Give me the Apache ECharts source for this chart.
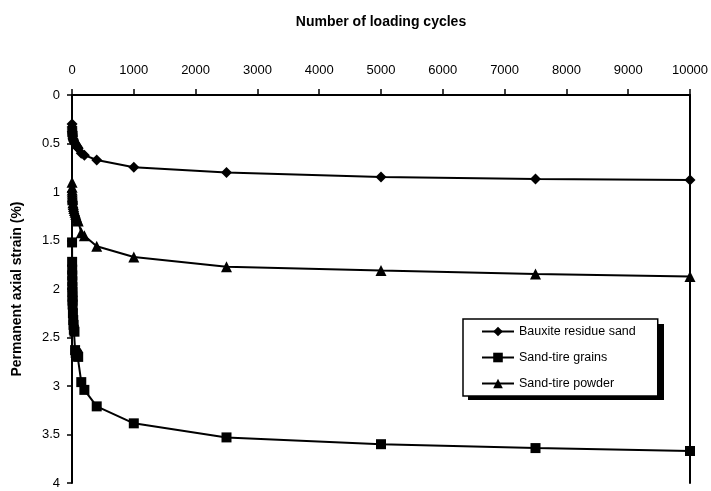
<!DOCTYPE html>
<html>
<head>
<meta charset="utf-8">
<script src="https://cdn.jsdelivr.net/npm/echarts@6/dist/echarts.min.js"></script>
<style>
  html, body { margin: 0; padding: 0; background: #fff; }
  #chart { width: 711px; height: 491px; }
</style>
</head>
<body>
<div id="chart"></div>
<script>
// loading cycles and permanent strain (%)
var cycles = [1, 2, 3, 4, 5, 6, 7, 8, 9, 10, 15, 20, 25, 30, 40, 50, 60, 70, 80, 90, 100,
              150, 200, 400, 1000, 2500, 5000, 7500, 10000];
var bauxite = [0.30, 0.33, 0.35, 0.37, 0.38, 0.39, 0.40, 0.41, 0.42, 0.43, 0.45, 0.46, 0.47, 0.48, 0.49,
               0.50, 0.51, 0.52, 0.53, 0.54, 0.55, 0.60, 0.62, 0.67, 0.745, 0.80, 0.845, 0.865, 0.876];
var grains = [1.52, 1.72, 1.80, 1.86, 1.92, 1.98, 2.03, 2.08, 2.12, 2.16, 2.25, 2.32, 2.37, 2.42, 2.44,
              2.63, 2.66, 2.67, 2.68, 2.69, 2.70, 2.96, 3.04, 3.21, 3.385, 3.53, 3.60, 3.64, 3.67];
var powder = [0.90, 0.95, 0.98, 1.00, 1.02, 1.04, 1.05, 1.06, 1.07, 1.08, 1.11, 1.13, 1.15, 1.17, 1.19,
              1.21, 1.23, 1.25, 1.27, 1.29, 1.30, 1.42, 1.45, 1.56, 1.67, 1.77, 1.81, 1.845, 1.87];
var seriesNames = ['Bauxite residue sand', 'Sand-tire grains', 'Sand-tire powder'];

function pairs(vals) {
  var out = [];
  for (var i = 0; i < cycles.length; i++) out.push([cycles[i], vals[i]]);
  return out;
}

var font = 'Liberation Sans, Arial, sans-serif';

function mkSeries(name, vals, sym, size) {
  return {
    name: name,
    type: 'line',
    data: pairs(vals),
    symbol: sym,
    symbolSize: size,
    showAllSymbol: true,
    lineStyle: { color: '#000', width: 2 },
    itemStyle: { color: '#000' },
    animation: false
  };
}

var chart = echarts.init(document.getElementById('chart'));
chart.setOption({
  backgroundColor: '#fff',
  textStyle: { fontFamily: font },
  grid: { left: 72, right: 21, top: 95, bottom: 8, outerBoundsMode: 'none' },
  // drop shadow of the legend box
  graphic: [{
    type: 'rect',
    z: 1,
    shape: { x: 468, y: 324, width: 196, height: 76 },
    style: { fill: '#000' }
  }],
  legend: {
    orient: 'vertical',
    left: 463,
    top: 319,
    z: 10,
    padding: [6, 22, 6, 18],
    itemWidth: 32,
    itemHeight: 12,
    itemGap: 13,
    backgroundColor: '#fff',
    borderColor: '#000',
    borderWidth: 1.5,
    borderRadius: 0,
    textStyle: { fontSize: 12.5, color: '#000', fontFamily: font },
    data: seriesNames
  },
  xAxis: {
    type: 'value',
    position: 'top',
    min: 0,
    max: 10000,
    interval: 1000,
    name: 'Number of loading cycles',
    nameLocation: 'middle',
    nameGap: 66,
    nameTextStyle: { fontSize: 14, fontWeight: 'bold', color: '#000', fontFamily: font },
    axisLine: { lineStyle: { color: '#000', width: 2 } },
    axisTick: { length: 6, lineStyle: { color: '#000', width: 1.5 } },
    axisLabel: {
      color: '#000', fontSize: 13, margin: 18, fontFamily: font,
      formatter: function (v) { return String(v); }
    },
    splitLine: { show: false }
  },
  yAxis: [{
    type: 'value',
    inverse: true,
    min: 0,
    max: 4,
    interval: 0.5,
    name: 'Permanent axial strain (%)',
    nameLocation: 'middle',
    nameGap: 48,
    nameTextStyle: { fontSize: 14, fontWeight: 'bold', color: '#000', fontFamily: font },
    axisLine: { show: true, lineStyle: { color: '#000', width: 2 } },
    axisTick: { show: true, length: 5, lineStyle: { color: '#000', width: 1.5 } },
    axisLabel: { color: '#000', fontSize: 13, margin: 12, fontFamily: font },
    splitLine: { show: false }
  }, {
    type: 'value',
    position: 'right',
    inverse: true,
    min: 0,
    max: 4,
    interval: 0.5,
    axisLine: { show: true, lineStyle: { color: '#000', width: 2 } },
    axisTick: { show: false },
    axisLabel: { show: false },
    splitLine: { show: false }
  }],
  series: [
    mkSeries(seriesNames[0], bauxite, 'diamond', 11),
    mkSeries(seriesNames[1], grains, 'rect', 10),
    mkSeries(seriesNames[2], powder, 'triangle', 11)
  ]
});
</script>
</body>
</html>
